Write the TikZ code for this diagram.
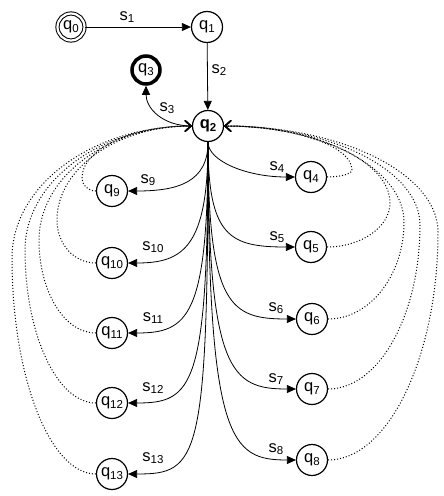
\documentclass[tikz,border=0pt]{standalone}
\usepackage{fontspec}
\setmainfont{Liberation Sans}
\usetikzlibrary{arrows.meta}
\newcommand\qsub[2]{#1\raisebox{-3pt}{\fontsize{11.5}{12}\selectfont #2}}
\newcommand\ssub[2]{#1\raisebox{-2pt}{\fontsize{11.5}{12}\selectfont #2}}
\begin{document}
\begin{tikzpicture}[x=1pt,y=1pt,
  st/.style={circle,draw,line width=1.2pt,minimum size=31pt,inner sep=0pt,font=\fontsize{16.5}{18}\selectfont},
  lbl/.style={inner sep=0pt,font=\fontsize{16.5}{18}\selectfont},
  tr/.style={line width=0.8pt,-{Triangle[length=9pt,width=8pt]}},
  dot/.style={line width=1pt,dash pattern=on 1pt off 2pt,-{Straight Barb[length=6pt,width=11pt,line width=1.3pt]}}]
\useasboundingbox (0,0) rectangle (444,-496);
\fill[white] (0,0) rectangle (444,-496);
% states
\node[st,double,double distance=2.2pt,line width=1pt,minimum size=27pt] (q0) at (71,-27) {\qsub{q}{0}};
\node[st] (q1) at (207,-27) {\qsub{q}{1}};
\node[st,line width=3.5pt,minimum size=28pt] (q3) at (146,-70) {\qsub{q}{3}};
\node[st,font=\fontsize{16.5}{18}\selectfont\bfseries] (q2) at (208,-126) {\qsub{q}{2}};
\node[st] (q4) at (311,-177) {\qsub{q}{4}};
\node[st] (q5) at (311,-247) {\qsub{q}{5}};
\node[st] (q6) at (312,-319) {\qsub{q}{6}};
\node[st] (q7) at (312,-389) {\qsub{q}{7}};
\node[st] (q8) at (312,-460) {\qsub{q}{8}};
\node[st] (q9) at (112,-191) {\qsub{q}{9}};
\node[st] (q10) at (112,-263) {\qsub{q}{10}};
\node[st] (q11) at (112,-333) {\qsub{q}{11}};
\node[st] (q12) at (112,-403) {\qsub{q}{12}};
\node[st] (q13) at (112,-474) {\qsub{q}{13}};
% labels
\node[lbl] (s1) at (127,-17) {\ssub{s}{1}};
\node[lbl] (s2) at (219,-70) {\ssub{s}{2}};
\node[lbl] (s3) at (167,-108) {\ssub{s}{3}};
\node[lbl] (s4) at (277,-167) {\ssub{s}{4}};
\node[lbl] (s5) at (277,-237) {\ssub{s}{5}};
\node[lbl] (s6) at (276,-308) {\ssub{s}{6}};
\node[lbl] (s7) at (276,-379) {\ssub{s}{7}};
\node[lbl] (s8) at (276,-449) {\ssub{s}{8}};
\node[lbl] (s9) at (148,-180) {\ssub{s}{9}};
\node[lbl] (s10) at (153,-247) {\ssub{s}{10}};
\node[lbl] (s11) at (153,-318) {\ssub{s}{11}};
\node[lbl] (s12) at (153,-388) {\ssub{s}{12}};
\node[lbl] (s13) at (153,-458) {\ssub{s}{13}};
% loop extremes
\coordinate (r4) at (352,-170);
\coordinate (r5) at (390,-203);
\coordinate (r6) at (404,-222);
\coordinate (r7) at (420,-225);
\coordinate (r8) at (438,-232);
\coordinate (l9) at (82,-178);
\coordinate (l10) at (57,-220);
\coordinate (l11) at (39,-240);
\coordinate (l12) at (25,-250);
\coordinate (l13) at (12,-258);
% solid transitions
\draw[tr] (q0) -- (q1);
\draw[tr] (q1) -- (q2);
\draw[tr] (q2.west) .. controls +(-30,0) and +(0,-22) .. (q3.south);
\draw[tr] (q2.south) .. controls +(0,-19) and +(-48,0) .. (q4.west);
\draw[tr] (q2.south) .. controls +(0,-95) and +(-65,0) .. (q5.west);
\draw[tr] (q2.south) .. controls +(0,-165) and +(-65,0) .. (q6.west);
\draw[tr] (q2.south) .. controls +(0,-230) and +(-65,0) .. (q7.west);
\draw[tr] (q2.south) .. controls +(0,-300) and +(-65,0) .. (q8.west);
\draw[tr] (q2.south) .. controls +(0,-40) and +(50,0) .. (q9.east);
\draw[tr] (q2.south) .. controls +(0,-105) and +(55,0) .. (q10.east);
\draw[tr] (q2.south) .. controls +(0,-175) and +(60,0) .. (q11.east);
\draw[tr] (q2.south) .. controls +(0,-245) and +(65,0) .. (q12.east);
\draw[tr] (q2.south) .. controls +(0,-320) and +(70,0) .. (q13.east);
% dotted returns
\draw[dot] (q4.east) .. controls +(13,0) and +(0,-4) .. (r4) .. controls +(0,24) and +(70,0) .. (q2.east);
\draw[dot] (q5.east) .. controls +(34,0) and +(0,-24) .. (r5) .. controls +(0,42) and +(91,0) .. (q2.east);
\draw[dot] (q6.east) .. controls +(42,0) and +(0,-53) .. (r6) .. controls +(0,53) and +(99,0) .. (q2.east);
\draw[dot] (q7.east) .. controls +(51,0) and +(0,-90) .. (r7) .. controls +(0,54) and +(108,0) .. (q2.east);
\draw[dot] (q8.east) .. controls +(60,0) and +(0,-125) .. (r8) .. controls +(0,58) and +(118,0) .. (q2.east);
\draw[dot] (q9.west) .. controls +(-8,0) and +(0,-7) .. (l9) .. controls +(0,29) and +(-60,0) .. (q2.west);
\draw[dot] (q10.west) .. controls +(-22,0) and +(0,-24) .. (l10) .. controls +(0,52) and +(-74,0) .. (q2.west);
\draw[dot] (q11.west) .. controls +(-32,0) and +(0,-51) .. (l11) .. controls +(0,63) and +(-84,0) .. (q2.west);
\draw[dot] (q12.west) .. controls +(-39,0) and +(0,-84) .. (l12) .. controls +(0,68) and +(-92,0) .. (q2.west);
\draw[dot] (q13.west) .. controls +(-46,0) and +(0,-119) .. (l13) .. controls +(0,73) and +(-99,0) .. (q2.west);
\end{tikzpicture}
\end{document}
